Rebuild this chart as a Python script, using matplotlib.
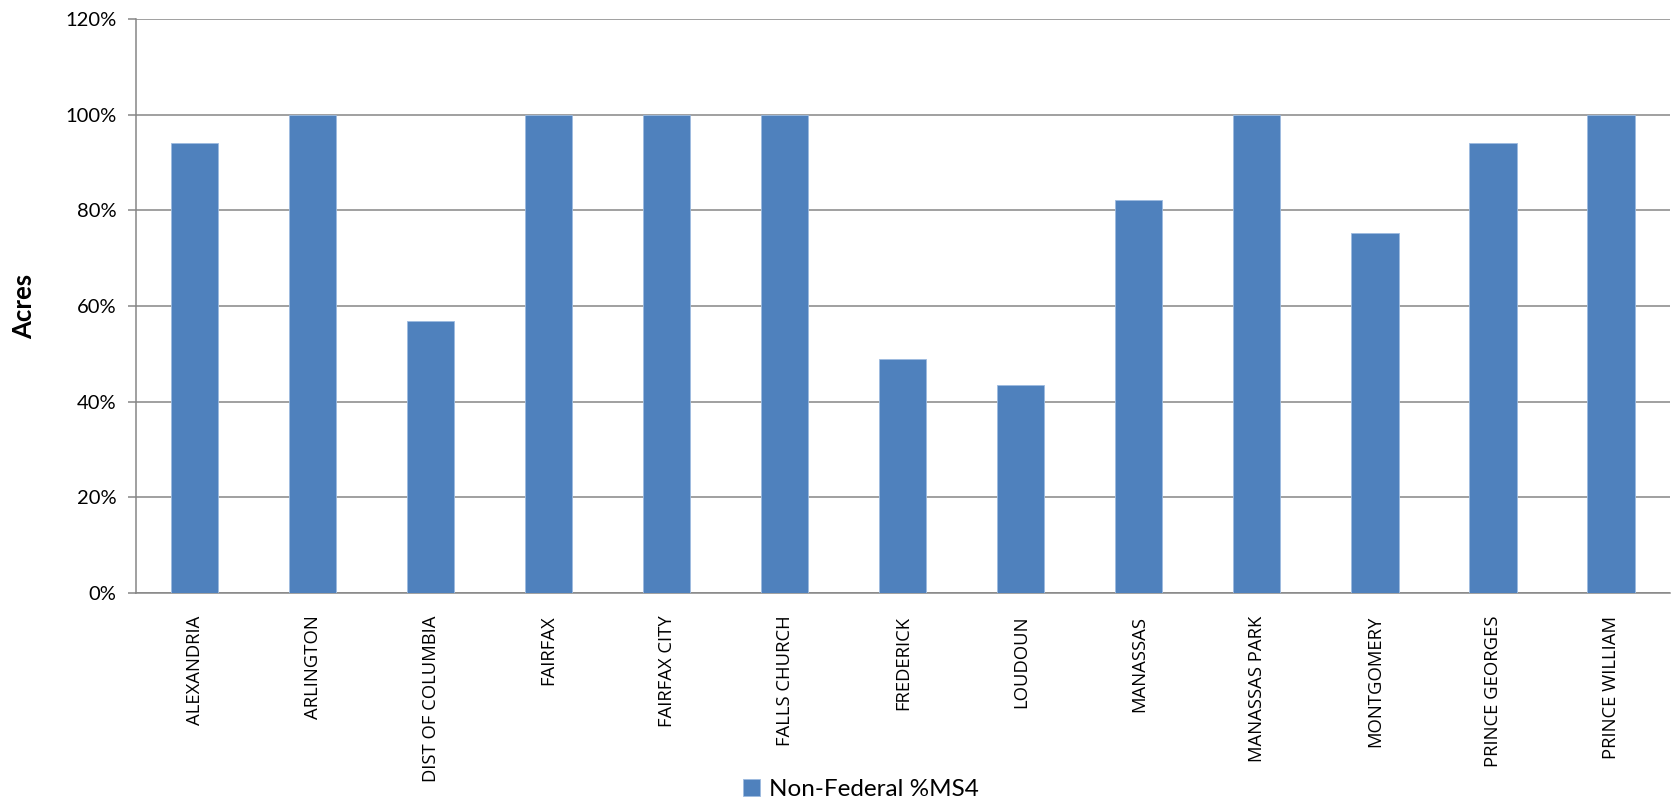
import matplotlib
matplotlib.use("Agg")
import matplotlib.pyplot as plt
from matplotlib.ticker import FixedLocator

# Share of non-federal land under MS4 by jurisdiction
jurisdictions = [
    "ALEXANDRIA", "ARLINGTON", "DIST OF COLUMBIA", "FAIRFAX", "FAIRFAX CITY",
    "FALLS CHURCH", "FREDERICK", "LOUDOUN", "MANASSAS", "MANASSAS PARK",
    "MONTGOMERY", "PRINCE GEORGES", "PRINCE WILLIAM",
]
non_federal_ms4 = [
    0.942, 1.000, 0.568, 1.000, 1.000,
    1.000, 0.488, 0.434, 0.822, 1.000,
    0.752, 0.941, 1.000,
]
y_ticks = [0.0, 0.2, 0.4, 0.6, 0.8, 1.0, 1.2]
y_tick_labels = ["0%", "20%", "40%", "60%", "80%", "100%", "120%"]
series_name = "Non-Federal %MS4"

W, H = 1675, 801
fig = plt.figure(figsize=(W / 100, H / 100), dpi=100)
ax = fig.add_axes([135.6 / W, 1 - 592.7 / H, (1670 - 135.6) / W, (592.7 - 19.2) / H])

grid_color = "#868686"
bar_color = "#4F81BD"
label_font = ["Open Sans", "DejaVu Sans"]
num_font = ["Lato", "DejaVu Sans"]

x = list(range(len(jurisdictions)))
bars = ax.bar(x, non_federal_ms4, width=0.4, color=bar_color,
              edgecolor="#9dbbe0", linewidth=0.6, zorder=3, label=series_name)

ax.set_xlim(-0.5, len(jurisdictions) - 0.5)
ax.set_ylim(0, 1.2)
ax.yaxis.set_major_locator(FixedLocator(y_ticks))
ax.set_yticklabels(y_tick_labels, family=num_font, fontsize=14.5, color="#000000")
ax.set_xticks(x)
ax.set_xticklabels(jurisdictions, rotation=90, family=label_font,
                   fontsize=13.3, color="#000000", va="top", ha="center")

ax.grid(axis="y", color=grid_color, linewidth=1.1, zorder=0)
ax.set_axisbelow(True)
for side in ("top", "right"):
    ax.spines[side].set_visible(False)
for side in ("left", "bottom"):
    ax.spines[side].set_color(grid_color)
    ax.spines[side].set_linewidth(1.1)

ax.tick_params(axis="y", length=6, width=1.1, color=grid_color, pad=8)
ax.tick_params(axis="x", length=0, pad=16.5)

ax.set_ylabel("Acres", family=num_font, fontweight="bold", fontsize=18.5)
ax.yaxis.set_label_coords(-0.0645, 0.5)

fig.legend(handles=[bars], labels=[series_name], loc="center",
           bbox_to_anchor=(861 / W, 1 - 789.5 / H), frameon=False,
           prop={"family": num_font, "size": 17.5}, handlelength=0.7,
           handleheight=0.7, handletextpad=0.35, borderpad=0, borderaxespad=0)

fig.savefig("out.png", dpi=100, facecolor="white")
